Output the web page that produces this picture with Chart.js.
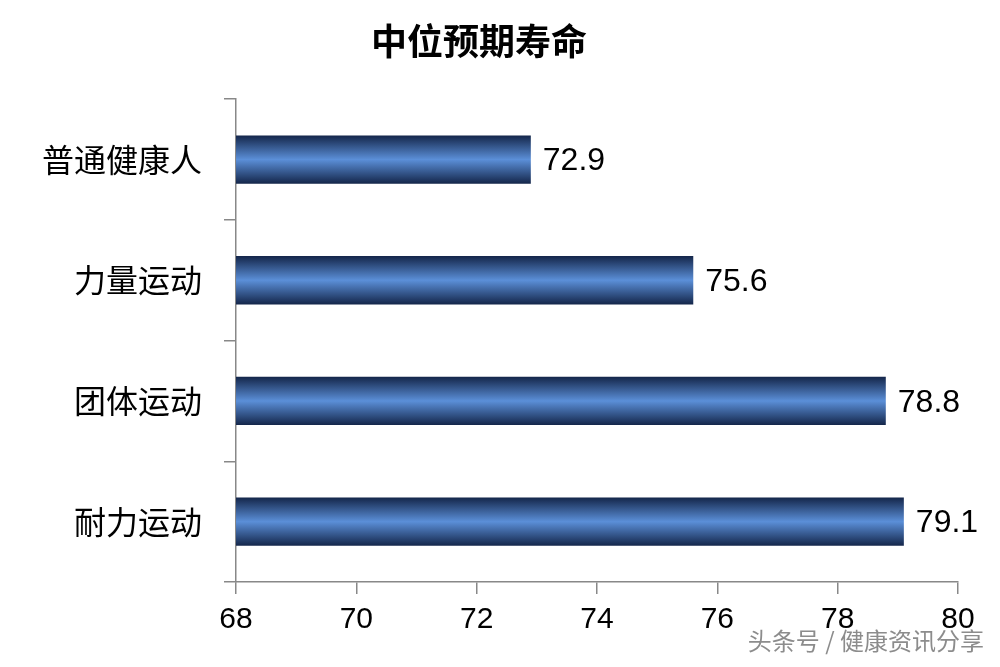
<!DOCTYPE html>
<html>
<head>
<meta charset="utf-8">
<script src="https://cdn.jsdelivr.net/npm/chart.js@4/dist/chart.umd.min.js"></script>
<style>
  html, body { margin: 0; padding: 0; background: #fff; }
  #wrap { position: relative; width: 1000px; height: 667px; }
  #mark { position: absolute; right: 16px; bottom: 10px; font: 24px "Noto Sans CJK SC"; color: rgba(120,120,120,0.85); }
</style>
</head>
<body>
<div id="wrap">
  <canvas id="chart" width="1000" height="667"></canvas>
  <div id="mark">头条号 / 健康资讯分享</div>
</div>
<script>
var categories = ['普通健康人', '力量运动', '团体运动', '耐力运动'],
    lifeExpectancy = [72.9, 75.6, 78.8, 79.1],
    tickValues = [68, 70, 72, 74, 76, 78, 80];

var barFill = function (context) {
        var chart = context.chart,
            meta = chart.getDatasetMeta(0),
            bar = meta.data[context.dataIndex];

        if (!bar || !bar.height) {
            return '#2f5c9a';
        }

        var top = bar.y - bar.height / 2,
            grad = chart.ctx.createLinearGradient(0, top, 0, top + bar.height);

        grad.addColorStop(0, '#14264a');
        grad.addColorStop(0.5, '#5b8fd8');
        grad.addColorStop(1, '#14264a');
        return grad;
    },

    valueLabels = {
        id: 'valueLabels',
        afterDatasetsDraw: function (chart) {
            var ctx = chart.ctx;

            ctx.save();
            ctx.font = '32px "Liberation Sans", "Open Sans", sans-serif';
            ctx.fillStyle = '#000';
            ctx.textBaseline = 'middle';
            chart.getDatasetMeta(0).data.forEach(function (bar, i) {
                ctx.fillText(lifeExpectancy[i].toFixed(1), bar.x + 12, bar.y + 2);
            });
            ctx.restore();
        }
    };

var chart = new Chart(document.getElementById('chart').getContext('2d'), {
    type: 'bar',
    data: {
        labels: categories,
        datasets: [{
            data: lifeExpectancy,
            backgroundColor: barFill,
            borderWidth: 0,
            barPercentage: 0.4,
            categoryPercentage: 1
        }]
    },
    options: {
        indexAxis: 'y',
        responsive: false,
        animation: false,
        layout: { padding: { right: 42 } },
        plugins: {
            legend: { display: false },
            tooltip: { enabled: false },
            title: {
                display: true,
                text: '中位预期寿命',
                color: '#000',
                font: { family: '"Noto Sans CJK SC"', size: 36, weight: 'bold' },
                padding: { top: 20, bottom: 36 }
            }
        },
        scales: {
            x: {
                min: 68,
                max: 80,
                afterBuildTicks: function (scale) {
                    scale.ticks = tickValues.map(function (v) { return { value: v }; });
                },
                afterFit: function (scale) { scale.height = 85; },
                border: { color: '#888', width: 1.5 },
                grid: { drawOnChartArea: false, color: '#888', tickLength: 12, lineWidth: 1.5 },
                ticks: {
                    color: '#000',
                    padding: 8,
                    font: { family: '"Liberation Sans", "Open Sans", sans-serif', size: 30 }
                }
            },
            y: {
                afterFit: function (scale) { scale.width = 236; },
                border: { color: '#888', width: 1.5 },
                grid: { offset: true, drawOnChartArea: false, color: '#888', tickLength: 12, lineWidth: 1.5 },
                ticks: {
                    color: '#000',
                    padding: 22,
                    font: { family: '"Noto Sans CJK SC"', size: 32 }
                }
            }
        }
    },
    plugins: [valueLabels]
});

chart.update();
</script>
</body>
</html>
